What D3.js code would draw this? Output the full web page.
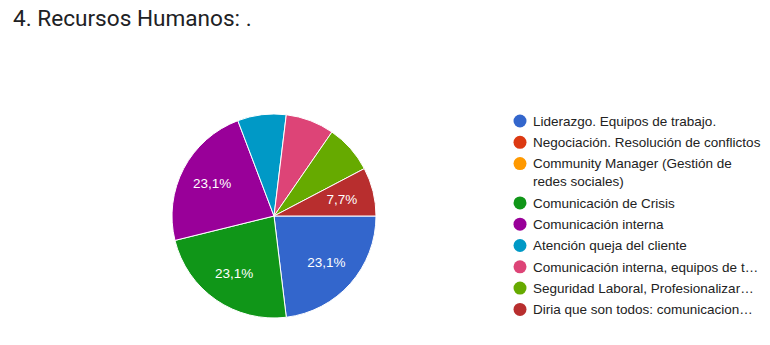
<!DOCTYPE html>
<html>
<head>
<meta charset="utf-8">
<script src="https://cdn.jsdelivr.net/npm/d3@7"></script>
<style>
  body { margin: 0; background: #fff; }
</style>
</head>
<body>
<script>
  var categories = [
    "Liderazgo. Equipos de trabajo.",
    "Negociación. Resolución de conflictos",
    "Community Manager (Gestión de redes sociales)",
    "Comunicación de Crisis",
    "Comunicación interna",
    "Atención queja del cliente",
    "Comunicación interna, equipos de t…",
    "Seguridad Laboral, Profesionalizar…",
    "Diria que son todos: comunicacion…"
  ];
  var legendLines = [
    ["Liderazgo. Equipos de trabajo."],
    ["Negociación. Resolución de conflictos"],
    ["Community Manager (Gestión de", "redes sociales)"],
    ["Comunicación de Crisis"],
    ["Comunicación interna"],
    ["Atención queja del cliente"],
    ["Comunicación interna, equipos de t…"],
    ["Seguridad Laboral, Profesionalizar…"],
    ["Diria que son todos: comunicacion…"]
  ];
  var counts = [3, 0, 0, 3, 3, 1, 1, 1, 1];
  var showLabel = [true, false, false, true, true, false, false, false, true];
  var colors = ["#3366cc", "#dc3912", "#ff9900", "#109618", "#990099",
                "#0099c6", "#dd4477", "#66aa00", "#b82e2e"];

  var W = 770, H = 345;
  var cx = 274, cy = 216, radius = 102;

  var svg = d3.select("body").append("svg")
    .attr("width", W)
    .attr("height", H);

  svg.append("text")
    .attr("x", 13)
    .attr("y", 25.5)
    .attr("font-family", "Roboto, sans-serif")
    .attr("font-size", "22.6px")
    .attr("fill", "#202124")
    .text("4. Recursos Humanos: .");

  var data = categories.map(function(c, i) {
    return {name: c, value: counts[i], color: colors[i], label: showLabel[i]};
  });
  var total = d3.sum(counts);

  var pie = d3.pie()
    .sort(null)
    .value(function(d) { return d.value; })
    .startAngle(Math.PI / 2)
    .endAngle(Math.PI / 2 + 2 * Math.PI);

  var arc = d3.arc().innerRadius(0).outerRadius(radius);
  var labelArc = d3.arc().innerRadius(70).outerRadius(70);

  var g = svg.append("g").attr("transform", "translate(" + cx + "," + cy + ")");

  var slices = pie(data).filter(function(d) { return d.data.value > 0; });

  g.selectAll("path")
    .data(slices)
    .enter()
    .append("path")
    .attr("d", arc)
    .attr("fill", function(d) { return d.data.color; })
    .attr("stroke", "#fff")
    .attr("stroke-width", 1);

  var fmt = function(v) { return (v * 100).toFixed(1).replace(".", ",") + "%"; };

  g.selectAll("text.lbl")
    .data(slices.filter(function(d) { return d.data.label; }))
    .enter()
    .append("text")
    .attr("class", "lbl")
    .attr("transform", function(d) { return "translate(" + labelArc.centroid(d) + ")"; })
    .attr("text-anchor", "middle")
    .attr("dy", "0.35em")
    .attr("font-family", "Arial, 'Liberation Sans', sans-serif")
    .attr("font-size", "13.5px")
    .attr("fill", "#fff")
    .text(function(d) { return fmt(d.data.value / total); });

  // legend
  var legend = svg.append("g");
  var y = 121;
  legendLines.forEach(function(lines, i) {
    legend.append("circle")
      .attr("cx", 520)
      .attr("cy", y)
      .attr("r", 6.5)
      .attr("fill", colors[i]);
    lines.forEach(function(t, j) {
      legend.append("text")
        .attr("x", 533)
        .attr("y", y + j * 18)
        .attr("dy", "0.35em")
        .attr("font-family", "Arial, 'Liberation Sans', sans-serif")
        .attr("font-size", "13.5px")
        .attr("fill", "#222")
        .text(t);
    });
    y += 21.3 + (lines.length - 1) * 18;
  });
</script>
</body>
</html>
